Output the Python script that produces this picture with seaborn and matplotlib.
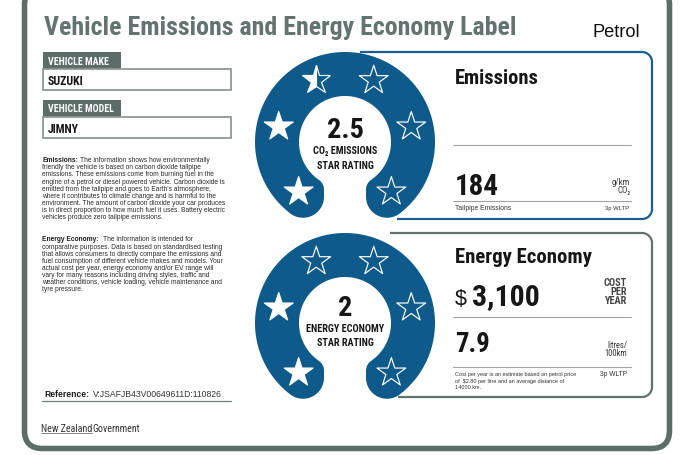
import numpy as np
import pandas as pd
import matplotlib
matplotlib.use("Agg")
import matplotlib.pyplot as plt
from matplotlib import font_manager
from matplotlib.patches import FancyBboxPatch, Rectangle, Polygon
import seaborn as sns

# =========================================================
# LABEL DATA
# =========================================================
fuel_type = "Petrol"
vehicle_make = "SUZUKI"
vehicle_model = "JIMNY"
co2_star_rating = 2.5
energy_star_rating = 2
co2_g_per_km = 184
cost_per_year = 3100
litres_per_100km = 7.9
petrol_price = 2.80
annual_distance_km = 14000
test_cycle = "3p WLTP"
reference_code = "V:JSAFJB43V00649611D:110826"
n_stars = 6

emissions_head = "Emissions:"
emissions_lines = [
    "The information shows how environmentally",
    "friendly the vehicle is based on carbon dioxide tailpipe",
    "emissions. These emissions come from burning fuel in the",
    "engine of a petrol or diesel powered vehicle. Carbon dioxide is",
    "emitted from the tailpipe and goes to Earth\u2019s atmosphere,",
    "where it contributes to climate change and is harmful to the",
    "environment. The amount of carbon dioxide your car produces",
    "is in direct proportion to how much fuel it uses. Battery electric",
    "vehicles produce zero tailpipe emissions.",
]
economy_head = "Energy Economy:"
economy_lines = [
    "The information is intended for",
    "comparative purposes. Data is based on standardised testing",
    "that allows consumers to directly compare the emissions and",
    "fuel consumption of different vehicle makes and models. Your",
    "actual cost per year, energy economy and/or EV range will",
    "vary for many reasons including driving styles, traffic and",
    "weather conditions, vehicle loading, vehicle maintenance and",
    "tyre pressure.",
]

# =========================================================
# STYLE
# =========================================================
sns.set_theme(style="white")

installed = {f.name for f in font_manager.fontManager.ttflist}


def pick(options):
    for name in options:
        if name in installed:
            return name
    return "DejaVu Sans"


NARROW = pick(["Roboto Condensed", "Archivo Narrow", "PT Sans Narrow",
               "Liberation Sans Narrow", "Barlow Condensed", "Asap Condensed"])
SANS = pick(["Liberation Sans", "Arimo", "DejaVu Sans"])
plt.rcParams["font.family"] = [SANS, "DejaVu Sans"]

FRAME = "#5c6d69"
TITLE = "#627370"
BLUE = "#0e5a8a"
BLUE_LINE = "#1c5f8e"
PANEL2 = "#62736f"
RULE = "#a0a4a3"
INK = "#161616"

STAR_ANGLES = [133, 193, 245, 295, 347, 47]
STAR_RING = 68
STAR_MS = 21.8
STAR_LW = 0.85

fig = plt.figure(figsize=(6.89, 4.56), dpi=100)
ax = fig.add_axes([0, 0, 1, 1])
ax.set_xlim(0, 689)
ax.set_ylim(456, 0)
ax.axis("off")
renderer = fig.canvas.get_renderer()


def txt(x, y, s, width=None, size=10, family=NARROW, weight="bold", color=INK,
        ha="left", va="baseline", **kw):
    t = ax.text(x, y, s, fontsize=size, family=[family, "DejaVu Sans"],
                fontweight=weight, color=color, ha=ha, va=va, zorder=6, **kw)
    if width is not None:
        w = t.get_window_extent(renderer).width
        t.set_fontsize(size * width / w)
    return t


def arc(cx, cy, rad, a0, a1, n=60):
    t = np.radians(np.linspace(a0, a1, n))
    return np.column_stack([cx + rad * np.cos(t), cy + rad * np.sin(t)])


def horseshoe(cx, cy, R=90, r=46, half_gap=21, rc=21, f=12):
    ccx = cx - half_gap - rc
    ccy = cy + np.sqrt((R - rc) ** 2 - (ccx - cx) ** 2)
    phi = np.degrees(np.arctan2(ccy - cy, ccx - cx))
    fdx = half_gap + f
    fy = cy + np.sqrt((r + f) ** 2 - fdx ** 2)
    psi = np.degrees(np.arctan2(fy - cy, fdx))
    pts = np.vstack([
        arc(cx, cy, R, phi, 540 - phi, 200),
        arc(2 * cx - ccx, ccy, rc, 180 - phi, 180),
        arc(cx + fdx, fy, f, 180, 180 + psi),
        arc(cx, cy, r, psi, -180 - psi, 160),
        arc(cx - fdx, fy, f, -psi, 0),
        arc(ccx, ccy, rc, 0, phi),
    ])
    ax.add_patch(Polygon(pts, closed=True, fc=BLUE, ec="none", zorder=3))


def draw_stars(cx, cy, rating):
    ang = np.radians(STAR_ANGLES[:n_stars])
    state = []
    for i in range(n_stars):
        if rating >= i + 1:
            state.append("full")
        elif rating > i:
            state.append("half")
        else:
            state.append("empty")
    stars = pd.DataFrame({"x": cx + STAR_RING * np.cos(ang),
                          "y": cy + STAR_RING * np.sin(ang),
                          "state": state})
    whole = stars[stars["state"] != "half"]
    sns.scatterplot(data=whole, x="x", y="y", hue="state",
                    palette={"full": "white", "empty": BLUE},
                    marker="*", s=STAR_MS ** 2, edgecolor="white",
                    linewidth=STAR_LW, legend=False, ax=ax, zorder=4)
    for _, row in stars[stars["state"] == "half"].iterrows():
        ax.plot(row["x"], row["y"], marker="*", ms=STAR_MS, fillstyle="left",
                markerfacecolor="white", markerfacecoloralt=BLUE,
                markeredgecolor="white", mew=STAR_LW, zorder=4)


def panel(x_top, x_bot, x1, y0, y1, color, rad=10):
    pts = np.vstack([
        [[x_top, y0]],
        arc(x1 - rad, y0 + rad, rad, -90, 0, 20),
        arc(x1 - rad, y1 - rad, rad, 0, 90, 20),
        [[x_bot, y1]],
    ])
    ax.plot(pts[:, 0], pts[:, 1], color=color, lw=1.6, zorder=2,
            solid_capstyle="butt")


def rule(x0, x1, y, color=RULE, lw=0.8):
    ax.plot([x0, x1], [y, y], color=color, lw=lw, zorder=2)


# =========================================================
# FRAME + HEADER
# =========================================================
ax.add_patch(FancyBboxPatch((24.5, -12), 645, 461.5,
                            boxstyle="round,pad=0,rounding_size=18",
                            fc="white", ec=FRAME, lw=4.0, zorder=1))

txt(44, 35, "Vehicle Emissions and Energy Economy Label", width=472,
    size=18, color=TITLE)
txt(593, 37, fuel_type, width=48, size=12, family=SANS, weight="normal",
    color="#111111")

# vehicle make / model boxes
for y_tab, label, value, vw in [(52.7, "VEHICLE MAKE", vehicle_make, 36),
                                (100.5, "VEHICLE MODEL", vehicle_model, 31.5)]:
    ax.add_patch(Rectangle((42.5, y_tab), 78.5, 17.5, fc=FRAME, ec="none", zorder=2))
    ax.add_patch(Rectangle((43, y_tab + 17.5), 188, 21, fc="white",
                           ec="#8d9995", lw=1.3, zorder=2))
    txt(47.5, y_tab + 12.0, label, width=60 if "MAKE" in label else 65,
        size=7, color="white")
    txt(47.5, y_tab + 32.5, value, width=vw, size=9)

# =========================================================
# EXPLANATORY PARAGRAPHS
# =========================================================
probe = txt(0, -50, emissions_lines[3], width=186, size=5, family=SANS,
            weight="normal")
para_size = probe.get_fontsize()
probe.remove()
space = 0.28 * para_size * 100 / 72


def paragraph(y0, head, lines, step, head_gap=1.0):
    for i, line in enumerate(lines):
        y = y0 + i * step
        x = 42.5
        if i == 0:
            h = txt(x, y, head, size=para_size, family=SANS, va="center",
                    color="#1a1a1a")
            x += h.get_window_extent(renderer).width + space * head_gap
        txt(x, y, line, size=para_size, family=SANS, weight="normal",
            va="center", color="#2a2a2a")


paragraph(160.7, emissions_head, emissions_lines, 7.15)
paragraph(240.0, economy_head, economy_lines, 7.14, head_gap=2.0)

# reference + footer
rh = txt(44, 397, "Reference:", size=6.2, family=SANS, color="#1a1a1a")
txt(44 + rh.get_window_extent(renderer).width + 4, 397, reference_code,
    size=6.2, family=SANS, weight="normal", color="#333333")
rule(42, 231, 402.5, color="#6f7f7b", lw=0.9)

nz = txt(41, 432, "New Zealand", size=7.2, family=NARROW, weight="normal",
         color="#333333")
nzw = nz.get_window_extent(renderer).width
txt(41 + nzw + 0.5, 432, "Government", size=7.2, family=NARROW, weight="normal",
    color="#333333")
ax.plot([41, 41 + nzw], [434.5, 434.5], color="#555555", lw=0.5, zorder=6)

# =========================================================
# EMISSIONS BLOCK
# =========================================================
cx = 345
cy_em = 143
cy_en = 324

panel(360, 397, 652, 53, 220, BLUE_LINE)
horseshoe(cx, cy_em)
draw_stars(cx, cy_em, co2_star_rating)

big = txt(cx, 138, f"{co2_star_rating:g}", width=37, size=24, ha="center")
small = txt(cx, 169, "STAR RATING", width=57, size=8, ha="center")
txt(cx, 154, "CO\u2082 EMISSIONS", size=small.get_fontsize(), ha="center")

txt(455, 84, "Emissions", width=84, size=15)
rule(453, 631, 145.7)
txt(455, 195, f"{co2_g_per_km}", width=44, size=21)
gk = txt(630.5, 185, "g/km", width=18.5, size=7, weight="normal", ha="right",
         color="#333333")
txt(630.5, 193, "CO\u2082", size=gk.get_fontsize(), weight="normal", ha="right",
    color="#333333")
rule(453, 631, 201.7)
txt(455, 209, "Tailpipe Emissions", width=55, size=4.5, family=SANS,
    weight="normal", va="center", color="#333333")
txt(629, 209, test_cycle, width=24, size=4.5, family=SANS,
    weight="normal", ha="right", va="center", color="#333333")

# =========================================================
# ENERGY ECONOMY BLOCK
# =========================================================
panel(390, 398, 652, 234, 398, PANEL2)
horseshoe(cx, cy_en)
draw_stars(cx, cy_en, energy_star_rating)

txt(cx, 316, f"{energy_star_rating:g}", size=big.get_fontsize(), ha="center")
txt(cx, 332, "ENERGY ECONOMY", size=small.get_fontsize(), ha="center")
txt(cx, 346, "STAR RATING", size=small.get_fontsize(), ha="center")

txt(455, 263, "Energy Economy", width=137, size=15)
txt(455, 305, "$", width=12, size=18, family=SANS, weight="normal")
txt(472, 305, f"{cost_per_year:,}", width=68, size=18)
cpy = txt(627, 304, "YEAR", width=22, size=7, ha="right", color="#444444")
txt(627, 286.5, "COST", size=cpy.get_fontsize(), ha="right", color="#444444")
txt(627, 295.3, "PER", size=cpy.get_fontsize(), ha="right", color="#444444")
rule(453, 631, 318.3)

txt(455, 352, f"{litres_per_100km:.1f}", width=35, size=18)
lt = txt(627, 356.3, "100km", width=23, size=7, weight="normal", ha="right",
         color="#333333")
txt(627, 348, "litres/", size=lt.get_fontsize(), weight="normal", ha="right",
    color="#333333")
rule(453, 631, 367.7)

note = [
    "Cost per year is an estimate based on petrol price",
    f"of  ${petrol_price:.2f} per litre and an average distance of",
    f"{annual_distance_km} km.",
]
n0 = txt(455, 375, note[0], width=123, size=4.5, family=SANS, weight="normal",
         va="center", color="#333333")
for i, line in enumerate(note[1:], start=1):
    txt(455, 375 + 6.5 * i, line, size=n0.get_fontsize(), family=SANS,
        weight="normal", va="center", color="#333333")
txt(627, 375, test_cycle, width=27, size=4.5, family=SANS, weight="normal",
    ha="right", va="center", color="#333333")

ax.set_xlim(0, 689)
ax.set_ylim(456, 0)
fig.savefig("out.png", dpi=100)
